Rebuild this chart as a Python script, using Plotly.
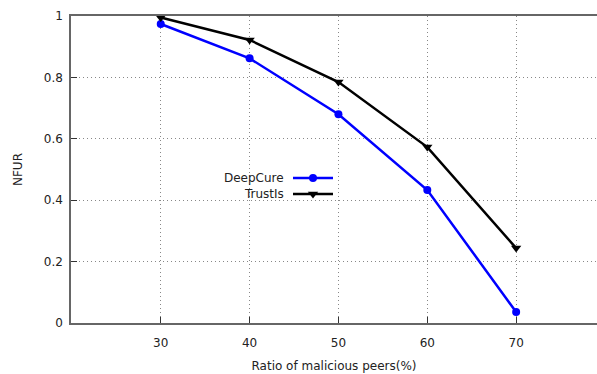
import plotly.graph_objects as go

ratios = [30, 40, 50, 60, 70]
deepcure = [0.974, 0.862, 0.680, 0.433, 0.036]
trustis = [0.995, 0.922, 0.785, 0.573, 0.244]
series_names = ["DeepCure", "TrustIs"]
yticks = [0, 0.2, 0.4, 0.6, 0.8, 1]
ytick_text = ["0", "0.2", "0.4", "0.6", "0.8", "1"]

FONT = "DejaVu Sans"
fig = go.Figure()
fig.add_trace(go.Scatter(x=ratios, y=deepcure, mode="lines+markers", name=series_names[0],
                         line=dict(color="#0000ff", width=2.5),
                         marker=dict(symbol="circle", size=8, color="#0000ff"),
                         showlegend=False, cliponaxis=False))
fig.add_trace(go.Scatter(x=ratios, y=trustis, mode="lines+markers", name=series_names[1],
                         line=dict(color="#000000", width=2.5),
                         marker=dict(symbol="triangle-down", size=9, color="#000000"),
                         showlegend=False, cliponaxis=False))

W, H = 597, 374
l, r, t, b = 71, 0, 16, 51
pw, ph = W - l - r, H - t - b
def px(xp):
    return (xp - l) / pw
def py(yp):
    return (H - b - yp) / ph

leg_y = [178, 194]
colors = ["#0000ff", "#000000"]
symbols = ["circle", "triangle-down"]
msizes = [8, 9]
for i in range(2):
    fig.add_trace(go.Scatter(x=[px(293), px(333)], y=[py(leg_y[i])] * 2, mode="lines",
                             line=dict(color=colors[i], width=2.5), xaxis="x2", yaxis="y2",
                             showlegend=False, hoverinfo="skip"))
    fig.add_trace(go.Scatter(x=[px(313)], y=[py(leg_y[i])], mode="markers",
                             marker=dict(symbol=symbols[i], size=msizes[i], color=colors[i]),
                             xaxis="x2", yaxis="y2", showlegend=False, hoverinfo="skip"))
    fig.add_annotation(x=px(286), y=py(leg_y[i]), xref="x2", yref="y2", text=series_names[i],
                       showarrow=False, xanchor="right", yanchor="middle",
                       font=dict(family=FONT, size=12, color="#222"))

grid_dash = "1px,3px"
fig.update_layout(
    width=W, height=H,
    margin=dict(l=l, r=r, t=t, b=b, autoexpand=False),
    paper_bgcolor="white", plot_bgcolor="white",
    font=dict(family=FONT, size=12, color="#222"),
    xaxis=dict(range=[19.9, 79.1], tickvals=ratios, ticks="inside", ticklen=6, tickcolor="#333",
               showgrid=True, gridcolor="#888", griddash=grid_dash, gridwidth=1,
               showline=True, linecolor="#666", linewidth=1.5, mirror=True, zeroline=False,
               ticklabelstandoff=8,
               title=dict(text="Ratio of malicious peers(%)", font=dict(size=12), standoff=12),
               tickfont=dict(size=12)),
    yaxis=dict(range=[0, 1], tickvals=yticks, ticktext=ytick_text, ticks="inside", ticklen=6,
               tickcolor="#333", showgrid=True, gridcolor="#888", griddash=grid_dash, gridwidth=1,
               showline=True, linecolor="#666", linewidth=1.5, mirror=False, zeroline=False,
               ticklabelstandoff=4,
               title=dict(text="NFUR", font=dict(size=12), standoff=19),
               tickfont=dict(size=12)),
    xaxis2=dict(range=[0, 1], overlaying="x", visible=False, fixedrange=True),
    yaxis2=dict(range=[0, 1], overlaying="y", visible=False, fixedrange=True),
)
fig.write_html("out.html", config={"displayModeBar": False},
               post_script="document.body.style.margin='0';document.body.style.overflow='hidden';")
